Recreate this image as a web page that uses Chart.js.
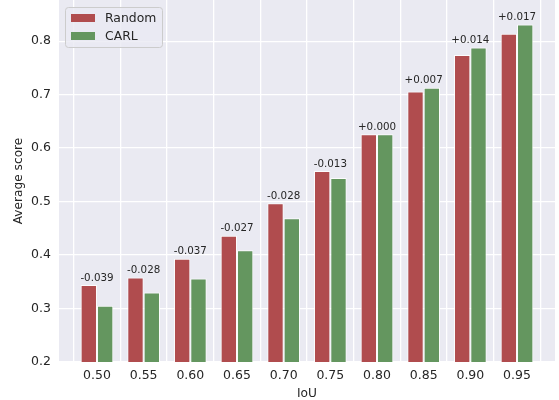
<!DOCTYPE html>
<html>
<head>
<meta charset="utf-8">
<script src="https://cdn.jsdelivr.net/npm/chart.js@4"></script>
<style>
  html, body { margin: 0; padding: 0; background: #ffffff; }
</style>
</head>
<body>
<canvas id="myChart" width="559" height="400"></canvas>
<script>
const iouValues = [0.50, 0.55, 0.60, 0.65, 0.70, 0.75, 0.80, 0.85, 0.90, 0.95];
const randomScores = [0.344, 0.358, 0.393, 0.436, 0.497, 0.557, 0.626, 0.706, 0.774, 0.814];
const carlScores = [0.305, 0.330, 0.356, 0.409, 0.469, 0.544, 0.626, 0.713, 0.788, 0.831];
const diffLabels = ['-0.039', '-0.028', '-0.037', '-0.027', '-0.028', '-0.013', '+0.000', '+0.007', '+0.014', '+0.017'];
const yTicks = [0.2, 0.3, 0.4, 0.5, 0.6, 0.7, 0.8];

const redColor = '#B04C4E';
const greenColor = '#64965F';
const textColor = '#262626';

Chart.defaults.font.family = "'DejaVu Sans', sans-serif";
Chart.defaults.color = textColor;

// grey axes background, like seaborn darkgrid
const axesBackground = {
    id: 'axesBackground',
    beforeDraw(chart) {
        const { ctx, chartArea } = chart;
        ctx.save();
        ctx.fillStyle = '#EAEAF2';
        ctx.fillRect(chartArea.left, chartArea.top, chartArea.right - chartArea.left, chartArea.bottom - chartArea.top);
        ctx.restore();
    }
};

// difference text above each pair of bars
const diffText = {
    id: 'diffText',
    afterDatasetsDraw(chart) {
        const { ctx } = chart;
        const a = chart.getDatasetMeta(0).data;
        const b = chart.getDatasetMeta(1).data;
        ctx.save();
        ctx.font = "10.3px 'DejaVu Sans'";
        ctx.fillStyle = textColor;
        ctx.textAlign = 'center';
        ctx.textBaseline = 'bottom';
        diffLabels.forEach((txt, i) => {
            const x = (a[i].x + b[i].x) / 2;
            const y = Math.min(a[i].y, b[i].y) - 2;
            ctx.fillText(txt, x, y);
        });
        ctx.restore();
    }
};

// matplotlib-style legend box in the upper left
const boxLegend = {
    id: 'boxLegend',
    afterDraw(chart) {
        const { ctx, chartArea } = chart;
        const x0 = chartArea.left + 6, y0 = chartArea.top + 7;
        const w = 97, h = 40;
        ctx.save();
        ctx.beginPath();
        ctx.roundRect(x0 + 0.5, y0 + 0.5, w, h, 3);
        ctx.fillStyle = 'rgba(234,234,242,0.8)';
        ctx.fill();
        ctx.strokeStyle = '#CCCCCC';
        ctx.lineWidth = 1;
        ctx.stroke();
        ctx.font = "12.4px 'DejaVu Sans'";
        ctx.textBaseline = 'middle';
        chart.data.datasets.forEach((ds, i) => {
            const cy = y0 + 11 + i * 18;
            ctx.fillStyle = ds.backgroundColor;
            ctx.fillRect(x0 + 6, cy - 4, 24, 8);
            ctx.fillStyle = textColor;
            ctx.fillText(ds.label, x0 + 40, cy + 0.5);
        });
        ctx.restore();
    }
};

const ctx = document.getElementById('myChart').getContext('2d');

const myBarChart = new Chart(ctx, {
    type: 'bar',
    data: {
        datasets: [
            {
                label: 'Random',
                data: iouValues.map((x, i) => ({ x: x, y: randomScores[i] })),
                backgroundColor: redColor,
                borderColor: 'rgba(255,255,255,0.85)',
                borderWidth: 1
            },
            {
                label: 'CARL',
                data: iouValues.map((x, i) => ({ x: x, y: carlScores[i] })),
                backgroundColor: greenColor,
                borderColor: 'rgba(255,255,255,0.85)',
                borderWidth: 1
            }
        ]
    },
    options: {
        responsive: false,
        animation: false,
        layout: { padding: { left: 0, right: 4, top: 0, bottom: 0 } },
        datasets: {
            bar: { categoryPercentage: 0.7, barPercentage: 1.0 }
        },
        plugins: {
            legend: { display: false },
            tooltip: { enabled: false }
        },
        scales: {
            x: {
                type: 'linear',
                min: 0.4593,
                max: 0.9907,
                offset: false,
                grid: { color: '#FFFFFF', lineWidth: 1.3, drawTicks: false },
                border: { display: false },
                ticks: {
                    padding: 6,
                    font: { size: 12.5 },
                    color: textColor,
                    callback: v => v.toFixed(2)
                },
                afterBuildTicks(scale) {
                    scale.ticks = iouValues.map(v => ({ value: v }));
                },
                title: { display: true, text: 'IoU', font: { size: 12.2 }, color: textColor, padding: { top: 0, bottom: -1 } },
                afterFit(scale) {
                    scale.height = 38;
                    scale.paddingLeft = 0;
                    scale.paddingRight = 0;
                }
            },
            y: {
                min: 0.2,
                max: 0.877,
                grid: { color: '#FFFFFF', lineWidth: 1.3, drawTicks: false },
                border: { display: false },
                ticks: {
                    padding: 8,
                    font: { size: 12.5 },
                    color: textColor,
                    callback: v => v.toFixed(1)
                },
                afterBuildTicks(scale) {
                    scale.ticks = yTicks.map(v => ({ value: v }));
                },
                title: { display: true, text: 'Average score', font: { size: 12.2 }, color: textColor, padding: { top: 12, bottom: 0 } },
                afterFit(scale) {
                    scale.width = 59;
                    scale.paddingTop = 0;
                    scale.paddingBottom = 0;
                }
            }
        }
    },
    plugins: [axesBackground, diffText, boxLegend]
});
</script>
</body>
</html>
